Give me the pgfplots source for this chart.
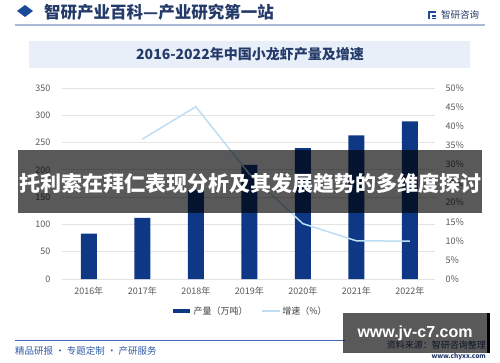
\documentclass[border=0pt]{standalone}
\usepackage{fontspec}
\setmainfont{Noto Sans CJK SC}
\newfontfamily\latinb{Liberation Sans}
\usepackage{pgfplots}
\pgfplotsset{compat=1.18}
\definecolor{barblue}{RGB}{14,56,134}
\definecolor{lineblue}{RGB}{189,222,244}
\definecolor{gridgray}{RGB}{228,228,228}
\definecolor{tickgray}{RGB}{89,89,89}
\definecolor{navy}{RGB}{36,58,105}
\definecolor{diam}{RGB}{26,75,155}
\definecolor{hdrline}{RGB}{170,184,214}
\definecolor{titlebox}{RGB}{233,239,249}
\definecolor{footblue}{RGB}{64,104,178}
\definecolor{foottext}{RGB}{47,92,168}
\definecolor{legtext}{RGB}{64,64,64}
\begin{document}
\begin{tikzpicture}[x=1pt,y=1pt]
\path[use as bounding box] (0,0) rectangle (500,362);
\fill[white] (0,0) rectangle (500,362);
% header
\fill[diam] (17,351) -- (25,357) -- (33,351) -- (25,345) -- cycle;
\node[anchor=west, inner sep=0pt, text=navy, font=\fontsize{16.5}{18}\selectfont\bfseries] at (44,350) {智研产业百科—产业研究第一站};
\draw[hdrline, line width=1.5pt] (15,337) -- (485,337);
\fill[diam] (428,349) rectangle (436,351);
\fill[diam] (428,343) rectangle (430,349);
\fill[diam] (432,345) rectangle (436,347);
\fill[diam] (432,343) rectangle (436,344);
\node[anchor=west, inner sep=0pt, text=navy, font=\fontsize{9.5}{11}\selectfont] at (441,347.5) {智研咨询};
% title box
\fill[titlebox] (29,294) rectangle (470,321);
\node[inner sep=0pt, text=navy, font=\fontsize{14}{16}\selectfont\bfseries] at (250,307.5) {2016-2022年中国小龙虾产量及增速};
% bars axis
\begin{axis}[at={(62pt,83pt)}, anchor=south west, scale only axis,
  width=373pt, height=191pt,
  xmin=-0.5, xmax=6.47, ymin=0, ymax=350,
  xtick={0,...,6},
  xticklabels={2016年,2017年,2018年,2019年,2020年,2021年,2022年},
  ytick={0,50,...,350},
  ymajorgrids, grid style={gridgray, line width=0.8pt},
  axis line style={draw=none}, major tick length=0pt,
  tick label style={font=\fontsize{9}{10}\selectfont, text=tickgray},
  yticklabel style={xshift=-8pt},
  xticklabel style={yshift=-4pt},
  /pgf/number format/assume math mode=true,
  clip=false]
\addplot[ybar, bar width=16pt, fill=barblue, draw=none] coordinates {
(0,83) (1,112) (2,164) (3,209) (4,240) (5,263) (6,289)};
\end{axis}
% growth axis
\begin{axis}[at={(62pt,83pt)}, anchor=south west, scale only axis,
  width=373pt, height=191pt,
  xmin=-0.5, xmax=6.47, ymin=0, ymax=50,
  axis x line=none, axis y line*=right,
  ytick={0,5,...,50},
  yticklabel={\pgfmathprintnumber{\tick}\%},
  axis line style={draw=none}, major tick length=0pt,
  tick label style={font=\fontsize{9}{10}\selectfont, text=tickgray},
  yticklabel style={xshift=7pt},
  /pgf/number format/assume math mode=true,
  legend columns=2,
  legend style={at={(0.503,-0.168)}, anchor=center, draw=none, fill=none,
    font=\fontsize{9}{10}\selectfont, text=legtext,
    /tikz/every even column/.append style={column sep=12pt}},
  clip=false]
\addlegendimage{barblue, line width=4pt}
\addlegendentry{产量（万吨）}
\addplot[lineblue, line width=1.5pt] coordinates {
(1,36.6) (2,45.1) (3,27.5) (4,14.5) (5,10.0) (6,9.9)};
\addlegendentry{增速（\%）}
\end{axis}
% banner overlay
\fill[black, opacity=0.65] (18,149) rectangle (482,212);
\node[inner sep=0pt, text=white, font=\fontsize{21}{24}\selectfont\bfseries] at (250,178) {托利索在拜仁表现分析及其发展趋势的多维度探讨};
% footer
\draw[footblue, line width=1pt] (15,22) -- (345,22);
\node[anchor=west, inner sep=0pt, text=foottext, font=\fontsize{9.5}{11}\selectfont] at (15,11) {精品研报 · 专题定制 · 产研服务};
\node[anchor=east, inner sep=0pt, text=navy, font=\fontsize{9}{10}\selectfont] at (486,17) {资料来源：智研咨询整理};
\node[anchor=east, inner sep=0pt, text=navy, font=\fontsize{6.5}{7}\selectfont\bfseries] at (486,5) {www.chyxx.com};
\fill[black, opacity=0.65] (343,9) rectangle (487,49);
\fill[black] (487,9) rectangle (490,49);
\node[inner sep=0pt, text=white, font=\latinb\fontsize{16}{18}\selectfont\bfseries] at (415,29) {www.jv-c7.com};
\end{tikzpicture}
\end{document}
